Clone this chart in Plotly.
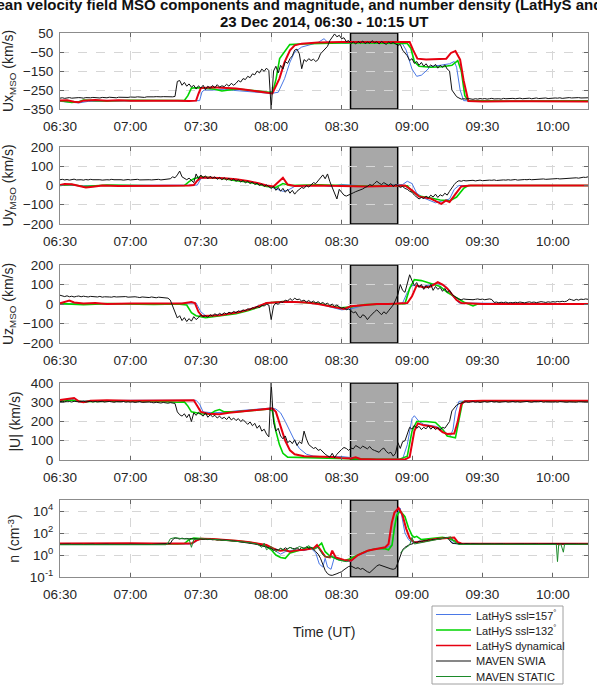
import plotly.graph_objects as go

# ------------------------------------------------------------------ data
# time axis in minutes after 06:30 UT
time_ticks = [0, 30, 60, 90, 120, 150, 180, 210]
time_labels = ["06:30", "07:00", "07:30", "08:00", "08:30", "09:00", "09:30", "10:00"]
time_labels_umag = ["06:30", "07:00", "08:30", "08:00", "08:30", "09:00", "09:30", "10:00"]
gap_window = [123.8, 143.9]

series_names = ["LatHyS ssl=157<sup>°</sup>", "LatHyS ssl=132<sup>°</sup>", "LatHyS dynamical",
                "MAVEN SWIA", "MAVEN STATIC"]

# MAVEN SWIA, one value per minute from 06:30
ux_swia = [
    -293, -291, -294, -292, -290, -293, -291, -292, -290, -291, -293, -290, -292, -291, -289,
    -291, -290, -292, -289, -290, -291, -288, -290, -289, -291, -288, -289, -290, -288, -289,
    -287, -289, -288, -286, -288, -287, -289, -286, -287, -288, -286, -285, -287, -286, -285,
    -286, -284, -285, -286, -284, -205, -200, -225, -210, -230, -218, -235, -225, -245, -228,
    -240, -225, -248, -230, -242, -226, -238, -222, -235, -228, -232, -220, -230, -215, -225,
    -215, -200, -208, -190, -195, -178, -185, -165, -170, -150, -160, -140, -152, -135, -148,
    -350, -150, -125, -160, -120, -140, -100, -110, -85, -70, -40, -35, -60, -138, -90,
    -100, -85, -95, -88, -100, -90, -60, -45, -35, -20, 10, 25, 45, 30, 38,
    20, 25, 5, 10, -5, 3, -8, 5, -3, 8, -6, 2, -4, 10, -2,
    4, -8, 6, -3, -10, 2, -5, 0, -8, -15, -10, -40, -55, -70, -95,
    -85, -110, -100, -120, -105, -125, -112, -130, -118, -128, -115, -135, -120, -130, -118,
    -140, -150, -250, -270, -285, -292, -298, -296, -298, -295, -297, -299, -296, -298, -295,
    -297, -295, -298, -296, -294, -297, -295, -296, -298, -294, -296, -295, -297, -294, -296,
    -295, -293, -296, -294, -295, -293, -296, -294, -292, -295, -293, -294, -292, -295, -293,
    -294, -292, -293, -291, -294, -292, -293, -290, -292, -291, -293, -290, -292, -291, -290,
    -291,
]
uy_swia = [
    30, 32, 29, 31, 28, 30, 33, 29, 31, 30, 28, 31, 29, 32, 30,
    31, 29, 30, 28, 31, 30, 29, 32, 30, 31, 29, 30, 28, 30, 31,
    29, 31, 30, 32, 29, 30, 28, 31, 30, 29, 31, 30, 32, 29, 30,
    31, 33, 35, 45, 40, 55, 75, 45, 35, 30, 38, 28, 15, 60, 35,
    55, 40, 50, 35, 48, 38, 45, 32, 42, 30, 40, 28, 38, 25, 34,
    22, 30, 18, 26, 14, 22, 10, 18, 5, 12, 0, 8, -5, 3, -8,
    -15, -5, -25, -10, -30, -15, -35, -20, -40, -25, -45, -30, -20, -10, -15,
    0, -8, 5, 15, 10, 25, 40, 55, 35, 60, 20, -10, -30, -70, -20,
    -35, -50, -55, -48, -42, -38, -32, -28, -20, -18, -10, -5, 5, 0, 10,
    22, 12, 5, 15, 8, 0, 10, -5, 5, 0, -10, -5, -15, -20, -30,
    -35, -50, -60, -70, -62, -68, -55, -65, -50, -60, -45, -62, -48, -55, -40,
    -50, -30, -10, 5, 18, 25, 22, 26, 24, 26, 25, 27, 24, 26, 28,
    25, 27, 26, 28, 27, 29, 26, 28, 27, 29, 28, 30, 28, 29, 31,
    28, 30, 29, 31, 30, 32, 30, 31, 33, 31, 32, 34, 32, 33, 35,
    33, 34, 36, 34, 35, 37, 36, 38, 37, 39, 40, 38, 41, 43, 42,
    45,
]
uz_swia = [
    45, 40, 38, 42, 37, 40, 36, 39, 41, 37, 40, 38, 36, 39, 37,
    38, 36, 39, 35, 37, 38, 36, 35, 38, 36, 37, 35, 36, 38, 35,
    36, 34, 37, 35, 33, 36, 34, 35, 33, 36, 34, 32, 35, 33, 34,
    32, 30, 20, -10, -40, -72, -60, -85, -70, -90, -75, -88, -65, -80, -70,
    -55, -65, -60, -68, -55, -62, -50, -58, -48, -55, -45, -52, -42, -48, -38,
    -45, -35, -40, -30, -35, -25, -28, -20, -22, -12, -18, -8, -10, -2, -5,
    -80, -10, 5, -2, 12, 8, 20, 15, 28, 18, 30, 22, 25, 15, 20,
    10, 18, 8, 15, 5, 12, 2, 8, -2, 5, -8, 0, -12, -5, -15,
    -22, -18, -30, -25, -35, -45, -40, -60, -72, -55, -62, -80, -65, -50, -40,
    -30, -45, -55, -40, -50, -35, -20, -5, 20, 50, 100, 70, 60, 110, 150,
    120, 95, 110, 85, 100, 75, 95, 80, 100, 70, 90, 75, 85, 65, 80,
    60, 70, 50, 40, 30, 25, 22, 26, 24, 23, 25, 22, 24, 26, 23,
    25, 22, 24, 26, 23, 8, 10, 6, 9, 7, 10, 5, 8, 6, 9,
    7, 10, 8, 6, 9, 11, 8, 10, 7, 9, 12, 10, 8, 11, 9,
    12, 10, 13, 11, 14, 12, 15, 25, 22, 18, 24, 20, 25, 23, 26,
    24,
]
umag_swia = [
    303, 305, 302, 306, 304, 301, 305, 303, 302, 304, 306, 302, 303, 305, 301,
    304, 302, 303, 305, 301, 303, 304, 302, 300, 303, 301, 302, 304, 300, 302,
    300, 302, 299, 301, 303, 299, 300, 298, 301, 299, 297, 300, 298, 296, 299,
    297, 295, 298, 296, 294, 250, 235, 228, 240, 220, 238, 200, 245, 232, 248,
    238, 228, 245, 222, 235, 225, 232, 218, 228, 215, 222, 210, 225, 208, 218,
    205, 215, 200, 210, 195, 185, 198, 178, 190, 165, 180, 150, 160, 135, 120,
    400, 195, 150, 165, 125, 110, 125, 90, 100, 85, 105, 75, 95, 85, 150,
    110, 80, 70, 60, 65, 50, 55, 40, 30, 22, 15, 35, 12, 30, 45,
    55, 65, 60, 50, 62, 58, 75, 68, 60, 72, 65, 58, 70, 55, 50,
    45, 40, 55, 62, 45, 35, 40, 20, 35, 90, 60, 95, 100, 130, 170,
    160, 180, 165, 175, 158, 170, 162, 178, 160, 172, 158, 168, 155, 170, 165,
    180, 200, 255, 272, 285, 292, 298, 300, 302, 299, 301, 303, 300, 302, 299,
    301, 303, 300, 302, 304, 301, 303, 300, 302, 301, 303, 300, 302, 304, 301,
    303, 300, 302, 301, 304, 302, 300, 303, 301, 302, 304, 300, 302, 301, 303,
    301, 302, 300, 303, 301, 302, 300, 302, 301, 303, 300, 302, 301, 300, 302,
    301,
]
n_swia = [
    9.5, 9.8, 9.2, 9.6, 9.9, 9.3, 9.7, 9.4, 9.8, 9.5, 9.2, 9.6, 9.9, 9.4, 9.7,
    9.3, 9.6, 9.8, 9.4, 9.2, 9.7, 9.5, 9.3, 9.8, 9.6, 9.4, 9.2, 9.7, 9.5, 9.3,
    9.6, 9.4, 9.8, 9.2, 9.5, 9.7, 9.3, 9.6, 9.4, 9.1, 9.5, 9.7, 9.3, 9.6, 9.9,
    9.8, 10.2, 11, 25, 35, 33, 28, 34, 30, 32, 29, 31, 28, 30, 27,
    29, 26, 28, 25, 27, 24, 26, 23, 25, 22, 23, 21, 22, 20, 19,
    18, 17, 16, 15, 14, 13, 12, 11, 10, 9, 8, 7, 6, 5.5, 5,
    4, 2.5, 3.5, 2.8, 4, 3, 4.5, 3.5, 5, 4, 3.8, 4.5, 3.2, 5, 4,
    5.5, 4, 5, 3.5, 2, 1.2, 0.5, 0.12, 0.04, 0.02, 0.015, 0.014, 0.016, 0.02, 0.025,
    0.03, 0.045, 0.07, 0.09, 0.1, 0.08, 0.06, 0.07, 0.05, 0.06, 0.04, 0.03, 0.025, 0.04, 0.07,
    0.1, 0.13, 0.11, 0.08, 0.07, 0.06, 0.055, 0.05, 0.06, 0.2, 0.8, 3, 5, 7, 9,
    10, 14, 13, 18, 16, 20, 19, 24, 22, 26, 25, 30, 28, 35, 38,
    40, 20, 12, 11, 10.5, 10, 10.5, 10.2, 10.8, 10.1, 10.4, 10.6, 10.2, 10.5, 10.3,
    10.6, 10.2, 10.4, 10.1, 10.5, 10.3, 10.7, 10.2, 10.4, 10.6, 10.1, 10.3, 10.5, 10.2, 10.4,
    10.3, 10.5, 10.1, 10.4, 10.2, 10.6, 10.3, 10.1, 10.5, 10.2, 10.4, 10.3, 10.6, 10.2, 10.4,
    10.1, 10.3, 10.5, 10.2, 10.4, 10.1, 10.3, 10.5, 10.2, 10.4, 10.3, 10.1, 10.4, 10.2, 10.3,
    10.2,
]

# LatHyS runs: (minute after 06:30, value)
ux_157 = [(0, -310), (5, -314), (8, -318), (12, -310), (20, -308), (30, -309), (40, -306), (50, -307),
          (59.5, -306), (60.5, -260), (61.5, -250), (66, -250), (70, -246), (74, -252), (78, -256),
          (82, -258), (86, -262), (90, -268), (93, -262), (95.7, -190), (98, -103), (100, -50),
          (103, -24), (107, -10), (110, 0), (112.5, 20), (114, 2), (117, -2), (122, -4), (126, 2),
          (130, -3), (135, -2), (140, -5), (144, -3), (146, -8), (147.5, -40), (150, -140),
          (152, -178), (154, -172), (156, -150), (158, -125), (162, -120), (166, -112), (168, -100),
          (169, -130), (170.5, -250), (172, -306), (180, -310), (200, -309), (225, -310)]
ux_132 = [(0, -306), (3, -310), (5, -316), (8, -312), (10, -303), (15, -306), (20, -308), (30, -304),
          (40, -306), (50, -306), (53, -305), (54.5, -280), (56, -240), (58, -238), (62, -240),
          (66, -246), (69, -255), (72, -250), (76, -245), (80, -250), (85, -258), (89, -262),
          (90.7, -260), (92.1, -190), (93.6, -85), (95.7, -50), (97.9, -11), (102, -8), (110, -5),
          (120, -3), (130, -2), (140, -3), (148, -5), (149.5, -30), (151, -100), (153, -125),
          (158, -130), (163, -128), (167, -120), (169.5, -95), (171, -150), (172.5, -280),
          (174, -305), (190, -308), (225, -307)]
ux_dyn = [(0, -305), (3, -304), (6, -312), (8, -314), (10, -306), (15, -303), (20, -306), (25, -304),
          (30, -306), (40, -305), (50, -307), (55, -308), (58, -306), (59, -270), (60, -240),
          (65, -236), (70, -238), (75, -242), (80, -250), (85, -258), (89, -265), (90.5, -268),
          (93.5, -190), (95.7, -103), (98, -41), (100, -15), (103, -6), (110, 0), (120, 2),
          (130, 3), (140, 3), (149, 2), (150.5, -40), (152.3, -85), (156, -90), (160, -88),
          (164.6, -85), (166.6, -55), (168.5, -45), (170.5, -90), (172, -200), (174, -308),
          (180, -310), (200, -309), (225, -310)]

uy_157 = [(0, 3), (10, -2), (20, 1), (40, 0), (55, 1), (58.5, 2), (60, 35), (62, 40), (70, 37),
          (80, 22), (88, 0), (92, -15), (95, -30), (97, -25), (100, -5), (105, -3), (110, 5),
          (115, -5), (120, 5), (130, -2), (140, 0), (146, 5), (148, 22), (150, 10), (152, -40),
          (155, -65), (160, -90), (163, -80), (166, -70), (168, -20), (170, 0), (225, 0)]
uy_132 = [(0, 0), (5, 5), (10, -5), (20, 2), (40, -1), (53, 0), (55, 20), (57, 35), (60, 45),
          (65, 40), (70, 35), (75, 25), (80, 18), (85, 5), (88, -5), (92, -10), (95, 10), (98, 0),
          (110, 3), (120, 0), (130, -3), (140, 0), (148, -2), (150, -30), (153, -55), (158, -65),
          (162, -75), (166, -80), (169, -60), (172, -15), (174, 0), (225, 0)]
uy_dyn = [(0, 2), (2, 8), (5, 6), (8, -3), (11, -10), (14, -6), (18, 0), (25, -2), (35, 0), (45, -1),
          (55, 0), (57, 2), (58.5, 25), (60, 42), (65, 40), (70, 38), (75, 32), (80, 24), (85, 10),
          (88, 0), (91, -5), (93, 20), (95, 40), (97, 5), (100, -2), (110, 0), (120, -3), (130, -5),
          (140, -2), (147, 0), (150, -25), (153, -58), (158, -68), (161, -86), (162.5, -95),
          (164.5, -78), (166, -86), (168.5, -45), (171, -5), (175, 0), (200, 1), (225, 0)]

uz_157 = [(0, 0), (20, 2), (40, 0), (55, 2), (58, 5), (60, -40), (62, -60), (70, -55), (80, -30),
          (88, 5), (95, 12), (100, 12), (110, 2), (115, -15), (120, -30), (124, -25), (130, -5),
          (140, 0), (146, 5), (148, 60), (150, 95), (155, 90), (160, 105), (164, 95), (166, 70),
          (168, 30), (170, 5), (225, 0)]
uz_132 = [(0, 2), (10, -3), (20, 2), (40, -2), (50, 0), (54, -5), (56, -45), (58, -60), (62, -70),
          (65, -65), (70, -55), (75, -50), (80, -35), (85, -15), (88, 5), (95, 12), (100, 10),
          (110, 3), (115, -10), (120, -20), (124, -15), (130, -3), (140, 0), (147, 2), (149, 80),
          (151, 125), (154, 120), (158, 105), (162, 90), (165, 60), (168, 40), (172, 10),
          (176, -10), (178, 0), (225, 0)]
uz_dyn = [(0, 3), (2, 12), (4, 18), (6, 8), (10, 2), (15, 5), (20, 0), (30, 3), (40, 2), (47, 5),
          (52, 2), (56, 10), (57.5, 5), (59, -40), (60.5, -62), (64, -60), (68, -58), (72, -50),
          (76, -42), (80, -30), (84, -15), (88, 5), (92, 10), (96, 12), (100, 10), (105, 8),
          (110, 0), (115, -12), (118, -20), (121, -25), (124, -12), (127, -8), (130, -5), (135, 0),
          (140, 0), (145, 2), (148, 5), (150, 40), (152, 95), (155, 85), (158, 90), (161, 112),
          (163, 100), (165, 80), (167, 50), (169, 20), (171, 5), (180, 0), (225, 0)]

umag_157 = [(0, 310), (5, 315), (8, 305), (15, 308), (30, 310), (45, 309), (58, 310), (59.5, 290),
            (61, 250), (65, 245), (70, 248), (75, 255), (80, 260), (85, 265), (90, 270), (92, 265),
            (94, 245), (96, 200), (98, 150), (100, 100), (102, 60), (105, 30), (108, 20), (115, 15),
            (120, 18), (125, 10), (130, 5), (140, 3), (146, 5), (148, 80), (150, 215), (151, 230),
            (153, 200), (155, 185), (160, 175), (163, 160), (165, 135), (166.5, 128), (167.5, 160),
            (168.5, 250), (170, 305), (180, 308), (225, 307)]
umag_132 = [(0, 305), (5, 310), (10, 303), (20, 306), (30, 305), (40, 306), (50, 300), (53, 302),
            (54.5, 280), (56, 250), (60, 240), (64, 238), (66, 255), (68, 262), (70, 250), (75, 250),
            (80, 255), (85, 262), (89, 265), (90.5, 255), (92, 150), (93.5, 80), (95, 35), (97, 15),
            (105, 12), (115, 10), (125, 5), (135, 3), (145, 5), (148, 20), (150, 150), (152, 200),
            (156, 200), (160, 195), (163, 160), (165, 125), (168.5, 115), (170, 200), (171.5, 300),
            (173, 305), (225, 305)]
umag_dyn = [(0, 312), (3, 318), (6, 322), (8, 305), (10, 300), (13, 308), (20, 310), (30, 308),
            (40, 310), (50, 309), (57, 310), (58.5, 280), (60, 250), (63, 240), (68, 238), (72, 245),
            (76, 250), (80, 258), (85, 262), (89, 270), (90.5, 268), (92, 250), (94, 180), (96, 100),
            (98, 50), (100, 30), (104, 20), (110, 18), (116, 15), (120, 10), (124, 8), (126, 14),
            (128, 5), (135, 3), (140, 2), (147, 3), (149, 15), (151, 150), (152.5, 190), (155, 180),
            (158, 175), (161, 165), (163, 145), (165, 135), (168, 138), (169.5, 200), (171, 290),
            (172.5, 305), (180, 308), (200, 307), (225, 308)]

n_157 = [(0, 10), (20, 10.5), (40, 10), (55, 10), (57, 12), (59, 25), (62, 30), (70, 24), (80, 14),
         (88, 8), (90, 4), (92, 2), (94, 1.2), (96, 2), (100, 3), (104, 2.5), (107, 4), (109, 1.5),
         (110.5, 0.15), (112, 0.08), (113, 0.5), (114, 0.08), (115.5, 0.05), (117, 0.7), (119, 0.4),
         (121, 0.3), (124, 0.25), (127, 1), (130, 1.5), (132, 3), (135, 4), (138, 3.5), (140, 6),
         (141.5, 8), (142.5, 200), (143.5, 5000), (145, 18000), (146, 1500), (147, 100),
         (148.5, 25), (150, 15), (155, 20), (160, 30), (164, 40), (166, 30), (167.5, 12),
         (169, 10.5), (180, 10), (225, 10.5)]
n_132 = [(0, 10), (10, 10.5), (20, 10), (40, 10.5), (50, 10), (53, 11), (55, 25), (57, 35), (60, 32),
         (65, 28), (70, 24), (75, 20), (80, 15), (85, 10), (88, 6), (90, 3), (92, 1), (94, 0.6),
         (96, 0.5), (98, 1.5), (100, 2), (103, 3), (106, 5), (108, 4), (110, 6), (111.5, 12),
         (113, 2), (115, 0.8), (117, 0.5), (119, 0.35), (121, 0.3), (123, 0.4), (126, 0.8),
         (130, 2), (134, 3.5), (138, 4), (140, 3), (141.5, 8), (142.5, 300), (143.5, 4000),
         (145, 10000), (147, 3000), (148.5, 300), (150, 60), (151, 40), (152, 50), (154, 25),
         (158, 30), (163, 40), (166, 30), (168, 20), (170, 11), (172, 10), (225, 10)]
n_dyn = [(0, 11), (10, 11.5), (20, 11), (30, 11.5), (40, 11), (50, 10.5), (56, 11), (58, 20), (60, 30),
         (65, 28), (70, 24), (75, 20), (80, 15), (85, 10), (88, 8), (90, 5), (92, 3), (94, 2.5),
         (96, 2.8), (98, 2), (100, 2.5), (104, 3), (108, 4), (109.5, 8), (111, 3), (113, 0.7),
         (115, 0.6), (116, 2.5), (117.5, 0.6), (119, 0.45), (121, 0.35), (124, 0.3), (127, 1),
         (131.4, 2.6), (135.7, 4), (138.6, 5), (140, 10), (141.4, 900), (142.5, 7000),
         (144.3, 19000), (146, 4000), (147.5, 250), (149, 35), (151, 14), (155, 18), (160, 28),
         (165, 35), (168, 38), (169.5, 15), (171, 11), (180, 10.5), (200, 10.5), (225, 10.5)]
n_static_a = [(0, 8.5), (10, 8.8), (20, 8.3), (30, 8.7), (40, 8.4), (45, 8.6), (46, 12), (47, 30),
              (49, 38), (52, 30), (55, 28), (56, 5), (57, 25), (60, 30), (65, 27), (70, 22), (75, 18),
              (80, 14), (84, 10), (86, 5), (87, 12), (88, 3), (90, 6), (92, 2), (94, 4), (96, 2.5),
              (98, 5), (100, 3), (102, 6), (104, 4), (106, 7), (108, 3), (110, 5), (112, 1),
              (114, 0.6), (116, 0.8), (118, 0.4), (120, 0.3), (122, 0.25), (123, 0.3)]
n_static_b = [(145, 1.5), (147, 4), (149, 8), (150, 40), (151, 10), (153, 12), (156, 16), (160, 22),
              (163, 28), (165, 38), (166.5, 45), (168, 15), (170, 9), (180, 9.5), (190, 9),
              (200, 9.5), (210, 9.2), (211.5, 9), (212, 0.25), (212.5, 8), (213.5, 9), (214.5, 1.8),
              (215, 9), (220, 9.3), (225, 9.5)]

# ------------------------------------------------------------------ figure
W, H = 597, 686
ML, MR, MT, MB = 60, 9, 33, 109
PW = W - ML - MR
PH = H - MT - MB
panel_px = [(33, 109), (147, 224), (265, 343), (383, 460), (500, 577)]

COL = {"blue": "#4a78e6", "green": "#00d400", "red": "#e60010", "black": "#111111", "static": "#1c8a2a"}
WID = {"blue": 1.0, "green": 1.6, "red": 2.0, "black": 1.0, "static": 1.0}
FONT = "Liberation Sans, Arial, sans-serif"


def unzip(pairs):
    return [p[0] for p in pairs], [p[1] for p in pairs]


def sfx(i):
    return "" if i == 1 else str(i)


def px_x(px):
    return (px - ML) / PW


def px_y(py):
    return (H - MB - py) / PH


fig = go.Figure()

panels = [
    (ux_157, ux_132, ux_dyn, ux_swia),
    (uy_157, uy_132, uy_dyn, uy_swia),
    (uz_157, uz_132, uz_dyn, uz_swia),
    (umag_157, umag_132, umag_dyn, umag_swia),
    (n_157, n_132, n_dyn, n_swia),
]
keys = ["blue", "green", "red", "black"]

for i, (s157, s132, sdyn, sswia) in enumerate(panels, start=1):
    for k, name, pairs in zip(keys[:3], series_names[:3], (s157, s132, sdyn)):
        x, y = unzip(pairs)
        fig.add_trace(go.Scatter(x=x, y=y, mode="lines", name=name, showlegend=False,
                                 line=dict(color=COL[k], width=WID[k]),
                                 xaxis="x" + sfx(i), yaxis="y" + sfx(i)))
    fig.add_trace(go.Scatter(x=list(range(len(sswia))), y=sswia, mode="lines", name=series_names[3],
                             showlegend=False, line=dict(color=COL["black"], width=WID["black"]),
                             xaxis="x" + sfx(i), yaxis="y" + sfx(i)))

xa, ya = unzip(n_static_a)
xb, yb = unzip(n_static_b)
fig.add_trace(go.Scatter(x=xa + [None] + xb, y=ya + [None] + yb, mode="lines", name=series_names[4],
                         showlegend=False, line=dict(color=COL["static"], width=WID["static"]),
                         xaxis="x5", yaxis="y5"))

y_ranges = [[-350, 50], [-200, 200], [-200, 200], [0, 400], [-2, 5]]
y_ticks = [[-350, -250, -150, -50, 50], [-200, -100, 0, 100, 200], [-200, -100, 0, 100, 200],
           [0, 100, 200, 300, 400], [0.01, 1, 100, 10000]]
y_ticktext = [None, None, None, None,
              ["10<sup>-1</sup>", "10<sup>0</sup>", "10<sup>2</sup>", "10<sup>4</sup>"]]
y_titles = ["Ux<sub>MSO</sub> (km/s)", "Uy<sub>MSO</sub> (km/s)", "Uz<sub>MSO</sub> (km/s)",
            "|U| (km/s)", "n (cm<sup>-3</sup>)"]

axis_common = dict(showline=True, mirror="ticks", linecolor="#8c8c8c", linewidth=1,
                   showgrid=True, gridcolor="#d6d6d6", griddash="dash", gridwidth=1,
                   zeroline=False, ticks="inside", ticklen=4, tickcolor="#666666",
                   automargin=False,
                   tickfont=dict(family=FONT, size=13.5, color="#262626"))

shapes = []
layout_axes = {}
for i in range(1, 6):
    top, bot = panel_px[i - 1]
    dom = [px_y(bot), px_y(top)]
    layout_axes["xaxis" + sfx(i)] = dict(axis_common, anchor="y" + sfx(i), domain=[0, 1], range=[0, 225],
                                         tickmode="array", tickvals=time_ticks,
                                         ticktext=time_labels_umag if i == 4 else time_labels,
                                         ticklabelstandoff=5)
    yd = dict(axis_common, anchor="x" + sfx(i), domain=dom, range=y_ranges[i - 1],
              tickmode="array", tickvals=y_ticks[i - 1], ticklabelstandoff=3,
              title=dict(text=y_titles[i - 1], standoff=6,
                         font=dict(family=FONT, size=14, color="#262626")))
    if y_ticktext[i - 1]:
        yd["ticktext"] = y_ticktext[i - 1]
        yd["type"] = "log"
    layout_axes["yaxis" + sfx(i)] = yd
    shapes.append(dict(type="rect", xref="x" + sfx(i), yref="y" + sfx(i) + " domain",
                       x0=gap_window[0], x1=gap_window[1], y0=0, y1=1,
                       fillcolor="#a8a8a8", line=dict(color="black", width=1.5), layer="below"))

# hand-drawn legend box (matches the compact MATLAB legend)
annotations = []
shapes.append(dict(type="rect", xref="paper", yref="paper", x0=px_x(432), x1=px_x(563),
                   y0=px_y(684), y1=px_y(606), fillcolor="white",
                   line=dict(color="#a0a0a0", width=1), layer="above"))
legend_keys = ["blue", "green", "red", "black", "static"]
for j, (k, name) in enumerate(zip(legend_keys, series_names)):
    yc = 614.5 + 15.5 * j
    lw = {"blue": 1.2, "green": 1.6, "red": 1.6, "black": 1.2, "static": 1.2}[k]
    shapes.append(dict(type="line", xref="paper", yref="paper", x0=px_x(436), x1=px_x(471),
                       y0=px_y(yc), y1=px_y(yc), line=dict(color=COL[k], width=lw), layer="above"))
    annotations.append(dict(text=name, xref="paper", yref="paper", x=px_x(474), y=px_y(yc),
                            xanchor="left", yanchor="middle", showarrow=False,
                            font=dict(family=FONT, size=11, color="#222222")))

annotations += [
    dict(text="<b>Mean velocity field MSO components and magnitude, and number density (LatHyS and MAVEN)</b>",
         xref="paper", yref="paper", x=0.5, y=px_y(4), xanchor="center", yanchor="middle",
         showarrow=False, font=dict(family=FONT, size=15, color="#111111")),
    dict(text="<b>23 Dec 2014, 06:30 - 10:15 UT</b>",
         xref="paper", yref="paper", x=0.5, y=px_y(22), xanchor="center", yanchor="middle",
         showarrow=False, font=dict(family=FONT, size=15, color="#111111")),
    dict(text="Time (UT)", xref="paper", yref="paper", x=0.5, y=px_y(632),
         xanchor="center", yanchor="middle", showarrow=False,
         font=dict(family=FONT, size=14, color="#262626")),
]

fig.update_layout(**layout_axes)
fig.update_layout(
    width=W, height=H, margin=dict(l=ML, r=MR, t=MT, b=MB, autoexpand=False),
    paper_bgcolor="white", plot_bgcolor="white",
    shapes=shapes, showlegend=False,
    font=dict(family=FONT, color="#262626"),
    annotations=annotations,
)

fig.write_html("out.html")
